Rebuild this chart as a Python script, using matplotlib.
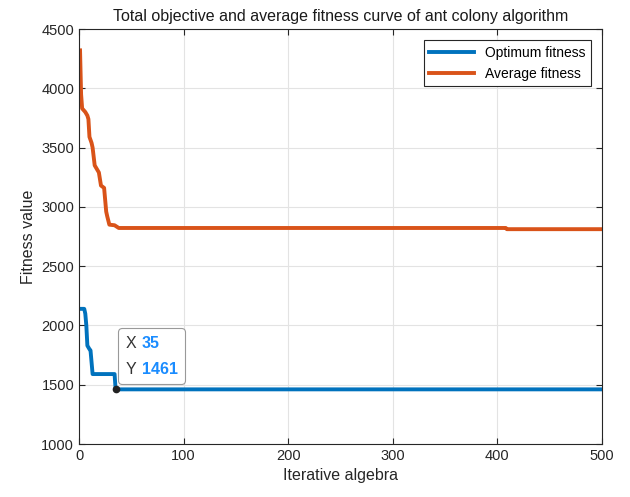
import matplotlib.pyplot as plt
from matplotlib.offsetbox import TextArea, HPacker, VPacker, AnnotationBbox
import numpy as np

plt.rcParams['font.family'] = ['Liberation Sans', 'DejaVu Sans']

# curve breakpoints
opt_iter = [1, 5, 6, 7, 8, 10, 11, 13, 34, 35, 500]
opt_val = [2140, 2140, 2100, 2000, 1830, 1800, 1790, 1590, 1590, 1461, 1461]

avg_iter = [1, 2, 3, 6, 8, 9, 10, 12, 13, 15, 19, 21, 24, 26, 27, 29, 34, 38, 408, 409, 500]
avg_val = [4320, 3950, 3830, 3800, 3770, 3740, 3590, 3540, 3500, 3350, 3290, 3180,
           3160, 2960, 2920, 2850, 2845, 2822, 2822, 2812, 2812]

tip_x = 35
tip_y = 1461

blue = (0, 0.447, 0.741)
orange = (0.85, 0.325, 0.098)

fig = plt.figure(figsize=(6.3, 4.97), dpi=100)
ax = fig.add_axes([0.1254, 0.1066, 0.8302, 0.835])

ax.plot(opt_iter, opt_val, color=blue, lw=2.8, label='Optimum fitness')
ax.plot(avg_iter, avg_val, color=orange, lw=2.8, label='Average fitness')

ax.set_xlim(0, 500)
ax.set_ylim(1000, 4500)
ax.set_xticks(np.arange(0, 501, 100))
ax.set_yticks(np.arange(1000, 4501, 500))
ax.grid(True, color='#e3e3e3', lw=0.8)
ax.set_axisbelow(True)
ax.tick_params(direction='in', top=True, right=True, labelsize=10.5,
               color='#262626', labelcolor='#262626', length=4)
for s in ax.spines.values():
    s.set_color('#262626')
    s.set_linewidth(0.8)

ax.set_xlabel('Iterative algebra', fontsize=11.5, color='#262626')
ax.set_ylabel('Fitness value', fontsize=11.5, color='#262626')
ax.set_title('Total objective and average fitness curve of ant colony algorithm',
             fontsize=11.5, color='#1a1a1a', pad=6)

leg = ax.legend(loc='upper right', fontsize=10, fancybox=False, framealpha=1,
                edgecolor='#262626', handlelength=3.2, borderaxespad=0.8)
leg.get_frame().set_linewidth(0.8)

# data tip
ax.plot([tip_x], [tip_y], 'o', color='#222222', ms=4.5, zorder=7)
lab = dict(fontsize=11.5, color='#333333')
val = dict(fontsize=11.5, color='#1a8cff', fontweight='bold')
row_x = HPacker(children=[TextArea('X', textprops=lab), TextArea(str(tip_x), textprops=val)],
                pad=0, sep=4, align='baseline')
row_y = HPacker(children=[TextArea('Y', textprops=lab), TextArea(str(tip_y), textprops=val)],
                pad=0, sep=4, align='baseline')
tip = VPacker(children=[row_x, row_y], pad=0, sep=8, align='left')
ab = AnnotationBbox(tip, (tip_x, tip_y), xybox=(7, 9), xycoords='data',
                    boxcoords='offset points', box_alignment=(0, 0), pad=0.55,
                    bboxprops=dict(boxstyle='round,pad=0.55,rounding_size=0.3',
                                   fc='white', ec='#999999', lw=0.8),
                    zorder=6)
ax.add_artist(ab)

fig.savefig('out.png', dpi=100)
